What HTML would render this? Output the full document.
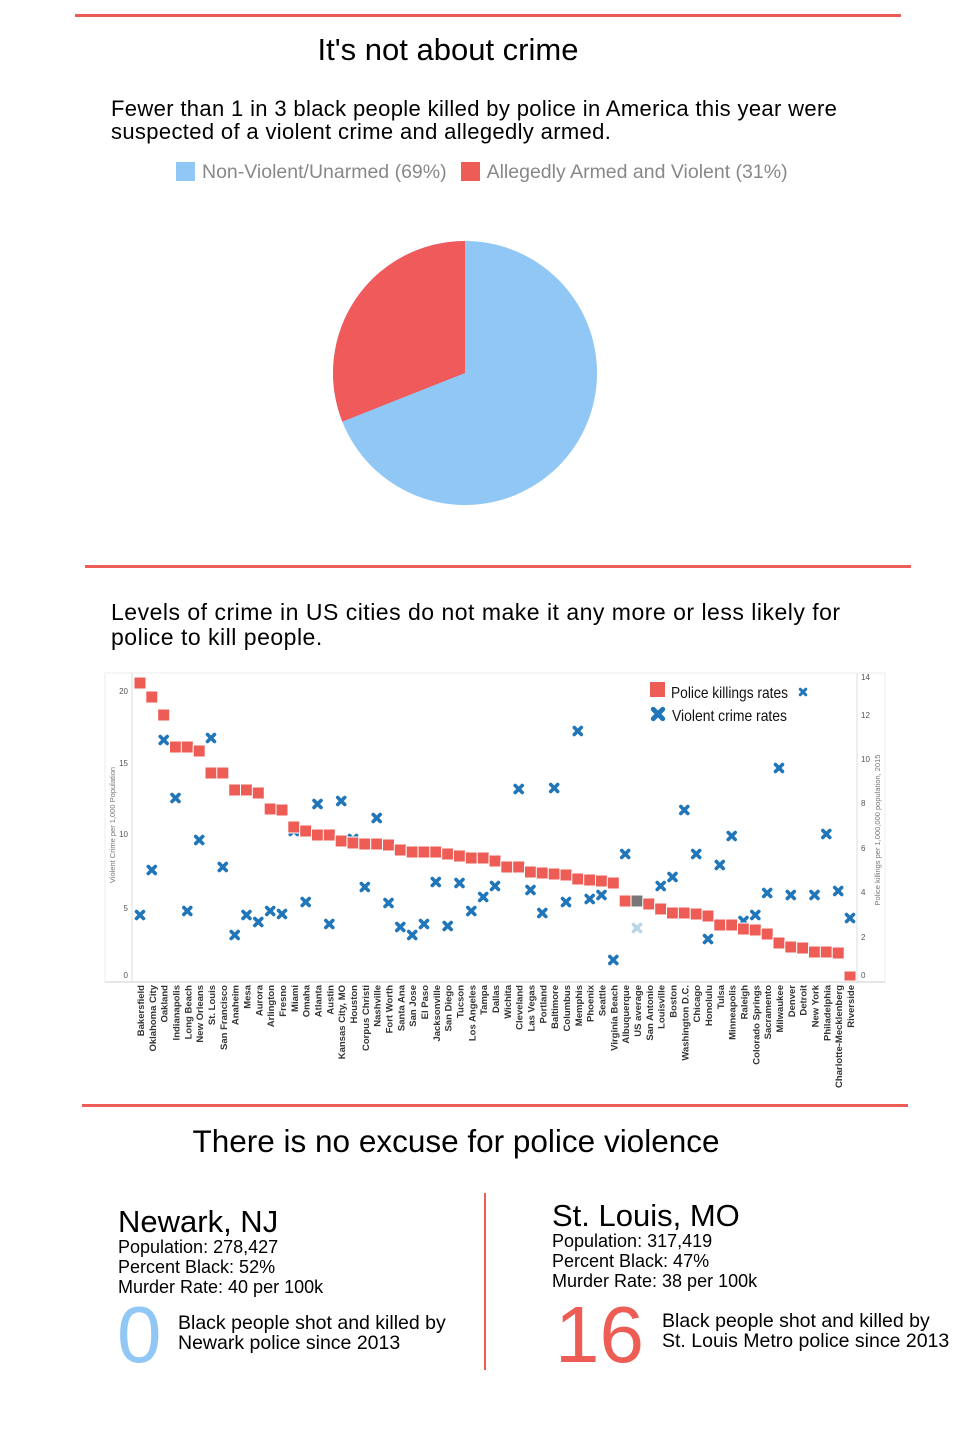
<!DOCTYPE html>
<html><head><meta charset="utf-8"><style>
html,body{margin:0;padding:0;background:#fff;}
body{width:980px;height:1432px;position:relative;overflow:hidden;font-family:"Liberation Sans",sans-serif;color:#000;}
.a{position:absolute;white-space:nowrap;}
.hr{position:absolute;height:3px;background:#ee5c56;}
</style></head><body>
<div class="hr" style="left:75px;top:14px;width:826px;"></div>
<div class="a" style="left:0;width:896px;text-align:center;top:32px;font-size:31px;">It's not about crime</div>
<div class="a" style="left:111px;top:97px;font-size:22px;letter-spacing:0.35px;line-height:23px;">Fewer than 1 in 3 black people killed by police in America this year were<br>suspected of a violent crime and allegedly armed.</div>
<div class="a" style="left:176px;top:161px;font-size:19.5px;color:#888;"><span style="display:inline-block;width:19px;height:19px;background:#90c7f5;vertical-align:-3px;margin-right:7px;"></span>Non-Violent/Unarmed (69%)<span style="display:inline-block;width:19px;height:19px;background:#ee5c56;vertical-align:-3px;margin:0 7px 0 14px;"></span>Allegedly Armed and Violent (31%)</div>
<svg class="a" style="left:0;top:0" width="980" height="560">
<circle cx="465" cy="373" r="132" fill="#90c7f5"/>
<path d="M465,373 L465,241 A132,132 0 0 0 342.3,421.6 Z" fill="#f05a5a"/>
</svg>
<div class="hr" style="left:85px;top:565px;width:826px;"></div>
<div class="a" style="left:111px;top:600px;font-size:23px;letter-spacing:0.5px;line-height:25px;">Levels of crime in US cities do not make it any more or less likely for<br>police to kill people.</div>

<svg class="a" style="left:0;top:0" width="980" height="1110" font-family="Liberation Sans, sans-serif">
<defs><g id="x"><path d="M-3.5,-3.5 L3.5,3.5 M-3.5,3.5 L3.5,-3.5" stroke="#2076b8" stroke-width="3.6" stroke-linecap="round"/></g></defs>
<rect x="105" y="673" width="780" height="309" fill="none" stroke="#eee"/>
<line x1="132" y1="673" x2="132" y2="982" stroke="#ddd"/>
<line x1="857" y1="673" x2="857" y2="982" stroke="#ddd"/>
<line x1="105" y1="982" x2="885" y2="982" stroke="#ccc"/>
<g font-size="8" fill="#555" text-anchor="end">
<text x="128" y="694">20</text><text x="128" y="766">15</text><text x="128" y="837">10</text><text x="128" y="911">5</text><text x="128" y="978">0</text>
</g>
<g font-size="8" fill="#555">
<text x="861" y="680">14</text><text x="861" y="718">12</text><text x="861" y="762">10</text><text x="861" y="806">8</text><text x="861" y="851">6</text><text x="861" y="895">4</text><text x="861" y="940">2</text><text x="861" y="978">0</text>
</g>
<text transform="translate(115,825) rotate(-90)" font-size="7.5" fill="#777" text-anchor="middle">Violent Crime per 1,000 Population</text>
<text transform="translate(880,830) rotate(-90)" font-size="7.5" fill="#777" text-anchor="middle">Police killings per 1,000,000 population, 2015</text>
<rect x="650" y="682" width="15" height="15" fill="#ee5c56"/>
<text x="671" y="698" font-size="16" fill="#111" font-family="Liberation Sans Narrow, Liberation Sans, sans-serif" textLength="117" lengthAdjust="spacingAndGlyphs">Police killings rates</text>
<use href="#x" transform="translate(803,692) scale(0.8)"/>
<use href="#x" transform="translate(658,714) scale(1.35)"/>
<text x="672" y="721" font-size="16" fill="#111" font-family="Liberation Sans Narrow, Liberation Sans, sans-serif" textLength="115" lengthAdjust="spacingAndGlyphs">Violent crime rates</text>
<g font-size="9.5" font-weight="bold" fill="#333" text-anchor="end" id="pts">
<g transform="translate(140,0)"><rect x="-6" y="677" width="12" height="12" fill="#ee5c56" stroke="#fff"/><use href="#x" y="915"/><text transform="translate(4,985) rotate(-90)">Bakersfield</text></g>
<g transform="translate(151.8,0)"><rect x="-6" y="691" width="12" height="12" fill="#ee5c56" stroke="#fff"/><use href="#x" y="870"/><text transform="translate(4,985) rotate(-90)">Oklahoma City</text></g>
<g transform="translate(163.7,0)"><rect x="-6" y="709" width="12" height="12" fill="#ee5c56" stroke="#fff"/><use href="#x" y="740"/><text transform="translate(4,985) rotate(-90)">Oakland</text></g>
<g transform="translate(175.5,0)"><rect x="-6" y="741" width="12" height="12" fill="#ee5c56" stroke="#fff"/><use href="#x" y="798"/><text transform="translate(4,985) rotate(-90)">Indianapolis</text></g>
<g transform="translate(187.3,0)"><rect x="-6" y="741" width="12" height="12" fill="#ee5c56" stroke="#fff"/><use href="#x" y="911"/><text transform="translate(4,985) rotate(-90)">Long Beach</text></g>
<g transform="translate(199.2,0)"><rect x="-6" y="745" width="12" height="12" fill="#ee5c56" stroke="#fff"/><use href="#x" y="840"/><text transform="translate(4,985) rotate(-90)">New Orleans</text></g>
<g transform="translate(211,0)"><rect x="-6" y="767" width="12" height="12" fill="#ee5c56" stroke="#fff"/><use href="#x" y="738"/><text transform="translate(4,985) rotate(-90)">St. Louis</text></g>
<g transform="translate(222.8,0)"><rect x="-6" y="767" width="12" height="12" fill="#ee5c56" stroke="#fff"/><use href="#x" y="867"/><text transform="translate(4,985) rotate(-90)">San Francisco</text></g>
<g transform="translate(234.7,0)"><rect x="-6" y="784" width="12" height="12" fill="#ee5c56" stroke="#fff"/><use href="#x" y="935"/><text transform="translate(4,985) rotate(-90)">Anaheim</text></g>
<g transform="translate(246.5,0)"><rect x="-6" y="784" width="12" height="12" fill="#ee5c56" stroke="#fff"/><use href="#x" y="915"/><text transform="translate(4,985) rotate(-90)">Mesa</text></g>
<g transform="translate(258.3,0)"><rect x="-6" y="787" width="12" height="12" fill="#ee5c56" stroke="#fff"/><use href="#x" y="922"/><text transform="translate(4,985) rotate(-90)">Aurora</text></g>
<g transform="translate(270.2,0)"><rect x="-6" y="803" width="12" height="12" fill="#ee5c56" stroke="#fff"/><use href="#x" y="911"/><text transform="translate(4,985) rotate(-90)">Arlington</text></g>
<g transform="translate(282,0)"><rect x="-6" y="804" width="12" height="12" fill="#ee5c56" stroke="#fff"/><use href="#x" y="914"/><text transform="translate(4,985) rotate(-90)">Fresno</text></g>
<g transform="translate(293.8,0)"><use href="#x" y="831"/><rect x="-6" y="821" width="12" height="12" fill="#ee5c56" stroke="#fff"/><text transform="translate(4,985) rotate(-90)">Miami</text></g>
<g transform="translate(305.7,0)"><rect x="-6" y="825" width="12" height="12" fill="#ee5c56" stroke="#fff"/><use href="#x" y="902"/><text transform="translate(4,985) rotate(-90)">Omaha</text></g>
<g transform="translate(317.5,0)"><rect x="-6" y="829" width="12" height="12" fill="#ee5c56" stroke="#fff"/><use href="#x" y="804"/><text transform="translate(4,985) rotate(-90)">Atlanta</text></g>
<g transform="translate(329.3,0)"><rect x="-6" y="829" width="12" height="12" fill="#ee5c56" stroke="#fff"/><use href="#x" y="924"/><text transform="translate(4,985) rotate(-90)">Austin</text></g>
<g transform="translate(341.2,0)"><rect x="-6" y="835" width="12" height="12" fill="#ee5c56" stroke="#fff"/><use href="#x" y="801"/><text transform="translate(4,985) rotate(-90)">Kansas City, MO</text></g>
<g transform="translate(353,0)"><use href="#x" y="839"/><rect x="-6" y="837" width="12" height="12" fill="#ee5c56" stroke="#fff"/><text transform="translate(4,985) rotate(-90)">Houston</text></g>
<g transform="translate(364.8,0)"><rect x="-6" y="838" width="12" height="12" fill="#ee5c56" stroke="#fff"/><use href="#x" y="887"/><text transform="translate(4,985) rotate(-90)">Corpus Christi</text></g>
<g transform="translate(376.7,0)"><rect x="-6" y="838" width="12" height="12" fill="#ee5c56" stroke="#fff"/><use href="#x" y="818"/><text transform="translate(4,985) rotate(-90)">Nashville</text></g>
<g transform="translate(388.5,0)"><rect x="-6" y="839" width="12" height="12" fill="#ee5c56" stroke="#fff"/><use href="#x" y="903"/><text transform="translate(4,985) rotate(-90)">Fort Worth</text></g>
<g transform="translate(400.3,0)"><rect x="-6" y="844" width="12" height="12" fill="#ee5c56" stroke="#fff"/><use href="#x" y="927"/><text transform="translate(4,985) rotate(-90)">Santa Ana</text></g>
<g transform="translate(412.2,0)"><rect x="-6" y="846" width="12" height="12" fill="#ee5c56" stroke="#fff"/><use href="#x" y="935"/><text transform="translate(4,985) rotate(-90)">San Jose</text></g>
<g transform="translate(424,0)"><rect x="-6" y="846" width="12" height="12" fill="#ee5c56" stroke="#fff"/><use href="#x" y="924"/><text transform="translate(4,985) rotate(-90)">El Paso</text></g>
<g transform="translate(435.8,0)"><rect x="-6" y="846" width="12" height="12" fill="#ee5c56" stroke="#fff"/><use href="#x" y="882"/><text transform="translate(4,985) rotate(-90)">Jacksonville</text></g>
<g transform="translate(447.7,0)"><rect x="-6" y="848" width="12" height="12" fill="#ee5c56" stroke="#fff"/><use href="#x" y="926"/><text transform="translate(4,985) rotate(-90)">San Diego</text></g>
<g transform="translate(459.5,0)"><rect x="-6" y="850" width="12" height="12" fill="#ee5c56" stroke="#fff"/><use href="#x" y="883"/><text transform="translate(4,985) rotate(-90)">Tucson</text></g>
<g transform="translate(471.3,0)"><rect x="-6" y="852" width="12" height="12" fill="#ee5c56" stroke="#fff"/><use href="#x" y="911"/><text transform="translate(4,985) rotate(-90)">Los Angeles</text></g>
<g transform="translate(483.2,0)"><rect x="-6" y="852" width="12" height="12" fill="#ee5c56" stroke="#fff"/><use href="#x" y="897"/><text transform="translate(4,985) rotate(-90)">Tampa</text></g>
<g transform="translate(495,0)"><rect x="-6" y="855" width="12" height="12" fill="#ee5c56" stroke="#fff"/><use href="#x" y="886"/><text transform="translate(4,985) rotate(-90)">Dallas</text></g>
<g transform="translate(506.8,0)"><rect x="-6" y="861" width="12" height="12" fill="#ee5c56" stroke="#fff"/><text transform="translate(4,985) rotate(-90)">Wichita</text></g>
<g transform="translate(518.7,0)"><rect x="-6" y="861" width="12" height="12" fill="#ee5c56" stroke="#fff"/><use href="#x" y="789"/><text transform="translate(4,985) rotate(-90)">Cleveland</text></g>
<g transform="translate(530.5,0)"><rect x="-6" y="866" width="12" height="12" fill="#ee5c56" stroke="#fff"/><use href="#x" y="890"/><text transform="translate(4,985) rotate(-90)">Las Vegas</text></g>
<g transform="translate(542.3,0)"><rect x="-6" y="867" width="12" height="12" fill="#ee5c56" stroke="#fff"/><use href="#x" y="913"/><text transform="translate(4,985) rotate(-90)">Portland</text></g>
<g transform="translate(554.2,0)"><rect x="-6" y="868" width="12" height="12" fill="#ee5c56" stroke="#fff"/><use href="#x" y="788"/><text transform="translate(4,985) rotate(-90)">Baltimore</text></g>
<g transform="translate(566,0)"><rect x="-6" y="869" width="12" height="12" fill="#ee5c56" stroke="#fff"/><use href="#x" y="902"/><text transform="translate(4,985) rotate(-90)">Columbus</text></g>
<g transform="translate(577.8,0)"><rect x="-6" y="873" width="12" height="12" fill="#ee5c56" stroke="#fff"/><use href="#x" y="731"/><text transform="translate(4,985) rotate(-90)">Memphis</text></g>
<g transform="translate(589.7,0)"><rect x="-6" y="874" width="12" height="12" fill="#ee5c56" stroke="#fff"/><use href="#x" y="899"/><text transform="translate(4,985) rotate(-90)">Phoenix</text></g>
<g transform="translate(601.5,0)"><rect x="-6" y="875" width="12" height="12" fill="#ee5c56" stroke="#fff"/><use href="#x" y="895"/><text transform="translate(4,985) rotate(-90)">Seattle</text></g>
<g transform="translate(613.3,0)"><rect x="-6" y="877" width="12" height="12" fill="#ee5c56" stroke="#fff"/><use href="#x" y="960"/><text transform="translate(4,985) rotate(-90)">Virginia Beach</text></g>
<g transform="translate(625.2,0)"><rect x="-6" y="895" width="12" height="12" fill="#ee5c56" stroke="#fff"/><use href="#x" y="854"/><text transform="translate(4,985) rotate(-90)">Albuquerque</text></g>
<g transform="translate(637,0)"><rect x="-6" y="895" width="12" height="12" fill="#777" stroke="#fff"/><use href="#x" y="928" style="opacity:.3" /><text transform="translate(4,985) rotate(-90)">US average</text></g>
<g transform="translate(648.8,0)"><rect x="-6" y="898" width="12" height="12" fill="#ee5c56" stroke="#fff"/><text transform="translate(4,985) rotate(-90)">San Antonio</text></g>
<g transform="translate(660.7,0)"><rect x="-6" y="903" width="12" height="12" fill="#ee5c56" stroke="#fff"/><use href="#x" y="886"/><text transform="translate(4,985) rotate(-90)">Louisville</text></g>
<g transform="translate(672.5,0)"><rect x="-6" y="907" width="12" height="12" fill="#ee5c56" stroke="#fff"/><use href="#x" y="877"/><text transform="translate(4,985) rotate(-90)">Boston</text></g>
<g transform="translate(684.3,0)"><rect x="-6" y="907" width="12" height="12" fill="#ee5c56" stroke="#fff"/><use href="#x" y="810"/><text transform="translate(4,985) rotate(-90)">Washington D.C.</text></g>
<g transform="translate(696.2,0)"><rect x="-6" y="908" width="12" height="12" fill="#ee5c56" stroke="#fff"/><use href="#x" y="854"/><text transform="translate(4,985) rotate(-90)">Chicago</text></g>
<g transform="translate(708,0)"><rect x="-6" y="910" width="12" height="12" fill="#ee5c56" stroke="#fff"/><use href="#x" y="939"/><text transform="translate(4,985) rotate(-90)">Honolulu</text></g>
<g transform="translate(719.8,0)"><rect x="-6" y="919" width="12" height="12" fill="#ee5c56" stroke="#fff"/><use href="#x" y="865"/><text transform="translate(4,985) rotate(-90)">Tulsa</text></g>
<g transform="translate(731.7,0)"><rect x="-6" y="919" width="12" height="12" fill="#ee5c56" stroke="#fff"/><use href="#x" y="836"/><text transform="translate(4,985) rotate(-90)">Minneapolis</text></g>
<g transform="translate(743.5,0)"><use href="#x" y="921"/><rect x="-6" y="923" width="12" height="12" fill="#ee5c56" stroke="#fff"/><text transform="translate(4,985) rotate(-90)">Raleigh</text></g>
<g transform="translate(755.3,0)"><rect x="-6" y="924" width="12" height="12" fill="#ee5c56" stroke="#fff"/><use href="#x" y="915"/><text transform="translate(4,985) rotate(-90)">Colorado Springs</text></g>
<g transform="translate(767.2,0)"><rect x="-6" y="928" width="12" height="12" fill="#ee5c56" stroke="#fff"/><use href="#x" y="893"/><text transform="translate(4,985) rotate(-90)">Sacramento</text></g>
<g transform="translate(779,0)"><rect x="-6" y="937" width="12" height="12" fill="#ee5c56" stroke="#fff"/><use href="#x" y="768"/><text transform="translate(4,985) rotate(-90)">Milwaukee</text></g>
<g transform="translate(790.8,0)"><rect x="-6" y="941" width="12" height="12" fill="#ee5c56" stroke="#fff"/><use href="#x" y="895"/><text transform="translate(4,985) rotate(-90)">Denver</text></g>
<g transform="translate(802.7,0)"><rect x="-6" y="942" width="12" height="12" fill="#ee5c56" stroke="#fff"/><text transform="translate(4,985) rotate(-90)">Detroit</text></g>
<g transform="translate(814.5,0)"><rect x="-6" y="946" width="12" height="12" fill="#ee5c56" stroke="#fff"/><use href="#x" y="895"/><text transform="translate(4,985) rotate(-90)">New York</text></g>
<g transform="translate(826.3,0)"><rect x="-6" y="946" width="12" height="12" fill="#ee5c56" stroke="#fff"/><use href="#x" y="834"/><text transform="translate(4,985) rotate(-90)">Philadelphia</text></g>
<g transform="translate(838.2,0)"><rect x="-6" y="947" width="12" height="12" fill="#ee5c56" stroke="#fff"/><use href="#x" y="891"/><text transform="translate(4,985) rotate(-90)">Charlotte-Mecklenberg</text></g>
<g transform="translate(850,0)"><rect x="-6" y="971" width="12" height="10" fill="#ee5c56" stroke="#fff"/><use href="#x" y="918"/><text transform="translate(4,985) rotate(-90)">Riverside</text></g>
</g>
</svg>

<div class="hr" style="left:82px;top:1104px;width:826px;"></div>
<div class="a" style="left:0;width:912px;text-align:center;top:1123px;font-size:31.5px;">There is no excuse for police violence</div>
<div class="a" style="left:484px;top:1193px;width:2px;height:177px;background:#ee5c56;"></div>
<div class="a" style="left:118px;top:1204px;font-size:31px;">Newark, NJ</div>
<div class="a" style="left:118px;top:1237px;font-size:18px;line-height:20px;">Population: 278,427<br>Percent Black: 52%<br>Murder Rate: 40 per 100k</div>
<div class="a" style="left:117px;top:1290px;font-size:80px;line-height:90px;color:#90c7f5;">0</div>
<div class="a" style="left:178px;top:1313px;font-size:19.5px;line-height:20px;">Black people shot and killed by<br>Newark police since 2013</div>
<div class="a" style="left:552px;top:1198px;font-size:31px;">St. Louis, MO</div>
<div class="a" style="left:552px;top:1231px;font-size:18px;line-height:20px;">Population: 317,419<br>Percent Black: 47%<br>Murder Rate: 38 per 100k</div>
<div class="a" style="left:555px;top:1290px;font-size:80px;line-height:90px;color:#ee5c56;">16</div>
<div class="a" style="left:662px;top:1311px;font-size:19.5px;line-height:20px;">Black people shot and killed by<br>St. Louis Metro police since 2013</div>
</body></html>
